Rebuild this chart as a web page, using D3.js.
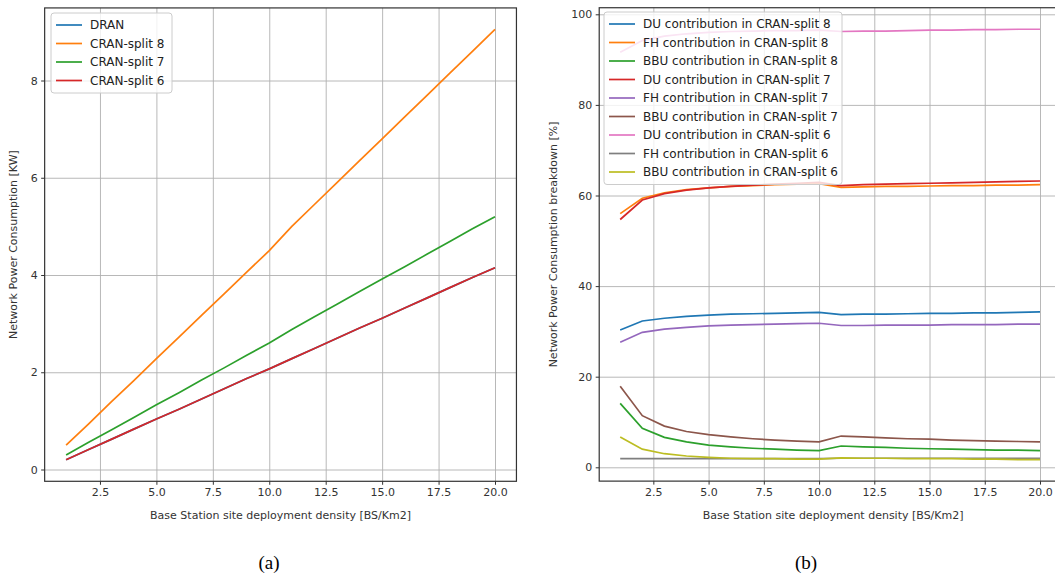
<!DOCTYPE html>
<html>
<head>
<meta charset="utf-8">
<script src="https://cdn.jsdelivr.net/npm/d3@7"></script>
<style>
  body { margin: 0; background: #fff; }
  svg { font-family: "DejaVu Sans", sans-serif; }
</style>
</head>
<body>
<div id="vis"></div>
<script>
// x values: BS site density 1..20
const density = [1, 2, 3, 4, 5, 6, 7, 8, 9, 10, 11, 12, 13, 14, 15, 16, 17, 18, 19, 20];

// (a) network power consumption [KW]
const namesA = ["DRAN", "CRAN-split 8", "CRAN-split 7", "CRAN-split 6"];
const dran   = [0.2, 0.41, 0.62, 0.83, 1.04, 1.24, 1.45, 1.66, 1.87, 2.07, 2.28, 2.49, 2.7, 2.91, 3.11, 3.32, 3.53, 3.74, 3.95, 4.15];
const cran8  = [0.5, 0.94, 1.39, 1.83, 2.28, 2.72, 3.17, 3.61, 4.06, 4.5, 5.0, 5.45, 5.9, 6.35, 6.8, 7.25, 7.7, 8.15, 8.6, 9.05];
const cran7  = [0.3, 0.56, 0.81, 1.07, 1.33, 1.58, 1.84, 2.09, 2.35, 2.6, 2.88, 3.14, 3.4, 3.66, 3.92, 4.17, 4.43, 4.69, 4.95, 5.2];
const cran6  = [0.2, 0.41, 0.62, 0.83, 1.04, 1.24, 1.45, 1.66, 1.87, 2.07, 2.28, 2.49, 2.7, 2.91, 3.11, 3.32, 3.53, 3.74, 3.95, 4.15];

// (b) breakdown [%]
const namesB = ["DU contribution in CRAN-split 8", "FH contribution in CRAN-split 8", "BBU contribution in CRAN-split 8",
                "DU contribution in CRAN-split 7", "FH contribution in CRAN-split 7", "BBU contribution in CRAN-split 7",
                "DU contribution in CRAN-split 6", "FH contribution in CRAN-split 6", "BBU contribution in CRAN-split 6"];
const du8  = [30.3, 32.3, 32.9, 33.3, 33.6, 33.8, 33.9, 34.0, 34.1, 34.2, 33.7, 33.8, 33.8, 33.9, 34.0, 34.0, 34.1, 34.1, 34.2, 34.3];
const fh8  = [56.0, 59.4, 60.6, 61.3, 61.7, 62.0, 62.2, 62.4, 62.5, 62.6, 61.8, 61.9, 62.0, 62.0, 62.1, 62.2, 62.2, 62.3, 62.3, 62.4];
const bbu8 = [14.1, 8.6, 6.6, 5.6, 4.9, 4.5, 4.2, 4.0, 3.8, 3.7, 4.7, 4.5, 4.4, 4.2, 4.1, 4.0, 3.9, 3.8, 3.8, 3.7];
const du7  = [54.7, 59.0, 60.4, 61.2, 61.7, 62.0, 62.3, 62.5, 62.7, 62.9, 62.2, 62.4, 62.5, 62.6, 62.7, 62.8, 62.9, 63.0, 63.1, 63.2];
const fh7  = [27.6, 29.8, 30.5, 30.9, 31.2, 31.4, 31.5, 31.6, 31.7, 31.8, 31.3, 31.3, 31.4, 31.4, 31.4, 31.5, 31.5, 31.5, 31.6, 31.6];
const bbu7 = [17.9, 11.4, 9.1, 7.9, 7.2, 6.7, 6.3, 6.0, 5.8, 5.6, 6.9, 6.7, 6.5, 6.3, 6.2, 6.0, 5.9, 5.8, 5.7, 5.6];
const du6  = [91.6, 94.2, 95.2, 95.7, 96.0, 96.2, 96.3, 96.4, 96.4, 96.5, 96.2, 96.3, 96.3, 96.4, 96.5, 96.5, 96.6, 96.6, 96.7, 96.7];
const fh6  = [1.9, 1.9, 1.9, 1.9, 1.9, 1.9, 1.9, 1.9, 1.9, 1.9, 2.0, 2.0, 2.0, 2.0, 2.0, 2.0, 2.0, 2.0, 2.0, 2.0];
const bbu6 = [6.7, 4.0, 3.0, 2.5, 2.2, 2.0, 1.9, 1.9, 1.8, 1.8, 2.1, 2.0, 2.0, 1.9, 1.9, 1.9, 1.8, 1.8, 1.7, 1.7];

const xTicks = [2.5, 5, 7.5, 10, 12.5, 15, 17.5, 20];
const yTicksA = [0, 2, 4, 6, 8];
const yTicksB = [0, 20, 40, 60, 80, 100];

const COLORS = ["#1f77b4", "#ff7f0e", "#2ca02c", "#d62728", "#9467bd", "#8c564b", "#e377c2", "#7f7f7f", "#bcbd22"];

const FRAME_WIDTH = 1055;
const FRAME_HEIGHT = 573;

const SVG = d3.select("#vis")
  .append("svg")
    .attr("width", FRAME_WIDTH)
    .attr("height", FRAME_HEIGHT);

SVG.append("rect")
  .attr("width", FRAME_WIDTH).attr("height", FRAME_HEIGHT).attr("fill", "#fff");

// draws one matplotlib-like panel
function panel(opt) {
  const X = d3.scaleLinear().domain([1, 20]).range(opt.xr);
  const Y = d3.scaleLinear().domain(opt.yd).range(opt.yr);
  const left = X(0.05), right = X(20.95);
  const top = Y(opt.ylim[1]), bottom = Y(opt.ylim[0]);
  const g = SVG.append("g");

  // grid
  g.append("g")
    .attr("transform", "translate(0," + bottom + ")")
    .call(d3.axisBottom(X).tickValues(xTicks).tickSize(-(bottom - top)).tickFormat(""))
    .call(a => a.select(".domain").remove())
    .selectAll("line").attr("stroke", "#b0b0b0").attr("stroke-width", 0.9);
  g.append("g")
    .attr("transform", "translate(" + left + ",0)")
    .call(d3.axisLeft(Y).tickValues(opt.yTicks).tickSize(-(right - left)).tickFormat(""))
    .call(a => a.select(".domain").remove())
    .selectAll("line").attr("stroke", "#b0b0b0").attr("stroke-width", 0.9);

  // lines
  const line = d3.line().x((d, i) => X(density[i])).y(d => Y(d));
  opt.series.forEach((s, i) => {
    g.append("path")
      .attr("d", line(s))
      .attr("fill", "none")
      .attr("stroke", COLORS[i])
      .attr("stroke-width", 1.7);
  });

  // frame
  g.append("rect")
    .attr("x", left).attr("y", top)
    .attr("width", right - left).attr("height", bottom - top)
    .attr("fill", "none").attr("stroke", "#333").attr("stroke-width", 1.2);

  // axes
  const xa = g.append("g")
    .attr("transform", "translate(0," + bottom + ")")
    .call(d3.axisBottom(X).tickValues(xTicks).tickSize(3.5).tickPadding(3.5).tickFormat(d3.format(".1f")));
  const ya = g.append("g")
    .attr("transform", "translate(" + left + ",0)")
    .call(d3.axisLeft(Y).tickValues(opt.yTicks).tickSize(3.5).tickPadding(3.5).tickFormat(d3.format("d")));
  [xa, ya].forEach(a => {
    a.select(".domain").remove();
    a.selectAll("line").attr("stroke", "#333");
    a.selectAll("text").attr("fill", "#333").attr("font-size", 11)
      .attr("font-family", "DejaVu Sans");
  });

  g.append("text")
    .attr("x", (left + Math.min(right, FRAME_WIDTH + 6)) / 2 - (opt.shiftLabel || 0))
    .attr("y", 519)
    .attr("text-anchor", "middle")
    .attr("font-size", 11).attr("fill", "#333")
    .text("Base Station site deployment density [BS/Km2]");
  g.append("text")
    .attr("transform", "translate(" + opt.ylabelX + "," + (top + bottom) / 2 + ") rotate(-90)")
    .attr("text-anchor", "middle")
    .attr("font-size", 11).attr("fill", "#333")
    .text(opt.ylabel);

  // legend
  const lg = g.append("g");
  const rowH = 18.5;
  lg.append("rect")
    .attr("x", opt.leg.x).attr("y", opt.leg.y)
    .attr("width", opt.leg.w).attr("height", opt.names.length * rowH + 6)
    .attr("rx", 3)
    .attr("fill", "#fff").attr("fill-opacity", 0.8)
    .attr("stroke", "#cccccc");
  opt.names.forEach((n, i) => {
    const yy = opt.leg.y + 12 + i * rowH;
    lg.append("line")
      .attr("x1", opt.leg.x + 5).attr("x2", opt.leg.x + 31)
      .attr("y1", yy).attr("y2", yy)
      .attr("stroke", COLORS[i]).attr("stroke-width", 1.7);
    lg.append("text")
      .attr("x", opt.leg.x + 39).attr("y", yy + 4.3)
      .attr("font-size", 12).attr("fill", "#222")
      .text(n);
  });
}

panel({
  xr: [66.1, 495], yd: [0, 8], yr: [469.5, 80.5], ylim: [-0.2425, 9.4925],
  yTicks: yTicksA, series: [dran, cran8, cran7, cran6], names: namesA,
  ylabel: "Network Power Consumption [KW]", ylabelX: 17,
  leg: {x: 51, y: 13, w: 121}
});

panel({
  xr: [620.2, 1040], yd: [0, 100], yr: [467.3, 14.3], ylim: [-3.05, 101.45],
  yTicks: yTicksB, series: [du8, fh8, bbu8, du7, fh7, bbu7, du6, fh6, bbu6], names: namesB,
  ylabel: "Network Power Consumption breakdown [%]", ylabelX: 557,
  leg: {x: 604, y: 12, w: 238}, shiftLabel: -3
});

// captions
SVG.append("text").attr("x", 269).attr("y", 569).attr("text-anchor", "middle")
  .attr("font-family", "Liberation Serif").attr("font-size", 19).text("(a)");
SVG.append("text").attr("x", 806).attr("y", 569).attr("text-anchor", "middle")
  .attr("font-family", "Liberation Serif").attr("font-size", 19).text("(b)");
</script>
</body>
</html>
